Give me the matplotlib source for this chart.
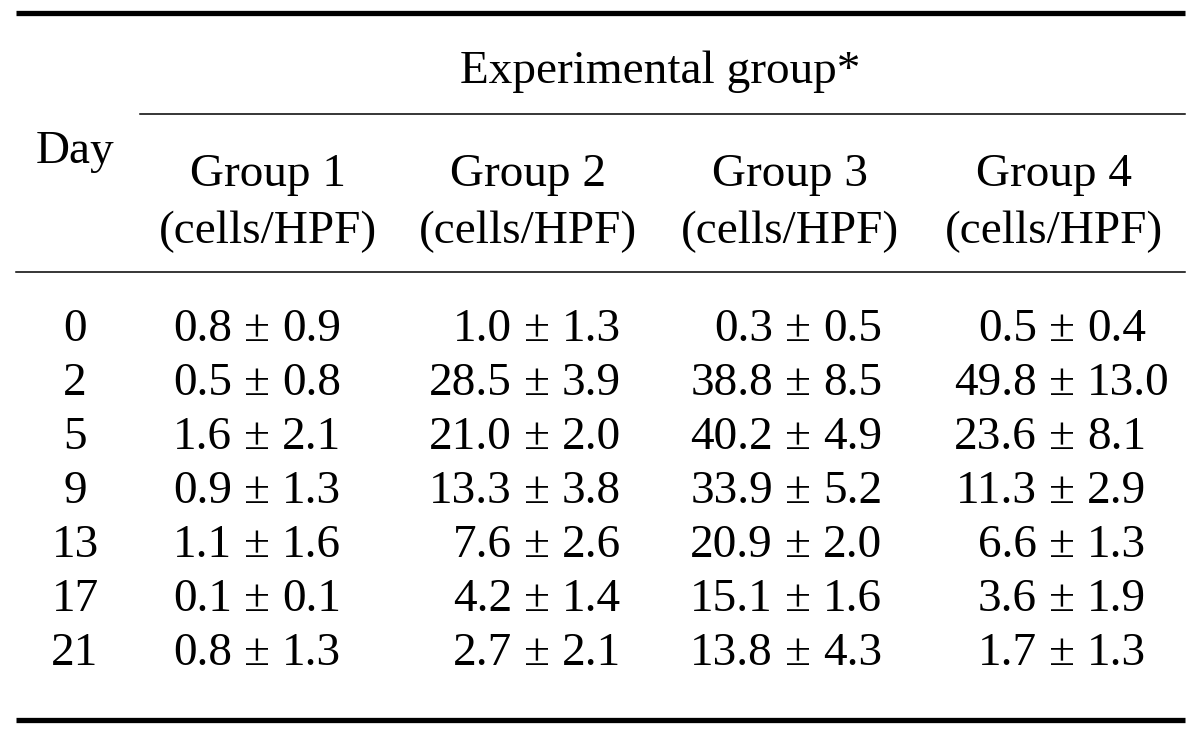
import matplotlib.pyplot as plt

# Data
days = ["0", "2", "5", "9", "13", "17", "21"]
groups = ["Group 1", "Group 2", "Group 3", "Group 4"]
unit = "(cells/HPF)"
g1_mean = ["0.8", "0.5", "1.6", "0.9", "1.1", "0.1", "0.8"]
g1_sd   = ["0.9", "0.8", "2.1", "1.3", "1.6", "0.1", "1.3"]
g2_mean = ["1.0", "28.5", "21.0", "13.3", "7.6", "4.2", "2.7"]
g2_sd   = ["1.3", "3.9", "2.0", "3.8", "2.6", "1.4", "2.1"]
g3_mean = ["0.3", "38.8", "40.2", "33.9", "20.9", "15.1", "13.8"]
g3_sd   = ["0.5", "8.5", "4.9", "5.2", "2.0", "1.6", "4.3"]
g4_mean = ["0.5", "49.8", "23.6", "11.3", "6.6", "3.6", "1.7"]
g4_sd   = ["0.4", "13.0", "8.1", "2.9", "1.3", "1.9", "1.3"]

means = [g1_mean, g2_mean, g3_mean, g4_mean]
sds = [g1_sd, g2_sd, g3_sd, g4_sd]

fig = plt.figure(figsize=(12, 7.29), dpi=100)
ax = fig.add_axes([0, 0, 1, 1])
ax.set_xlim(0, 1200)
ax.set_ylim(729, 0)
ax.axis("off")

fs = 34
font = dict(family=["Liberation Serif", "DejaVu Serif"], fontsize=fs, color="black")

# rules
ax.plot([16, 1185], [13, 13], color="black", lw=3.8, solid_capstyle="butt")
ax.plot([140, 1185], [114, 114], color="black", lw=1.1)
ax.plot([16, 1185], [272, 272], color="black", lw=1.1)
ax.plot([16, 1185], [720, 720], color="black", lw=3.8, solid_capstyle="butt")

# header
ax.text(660, 83, "Experimental group*", ha="center", va="baseline", **font)
ax.text(75, 163, "Day", ha="center", va="baseline", **font)
col_center = [268, 528, 790, 1054]
for x, g in zip(col_center, groups):
    ax.text(x, 186, g, ha="center", va="baseline", **font)
    ax.text(x, 243, unit, ha="center", va="baseline", **font)

# body, aligned on the ± sign
pm_x = [257, 537, 798, 1062]
row_base = 341
row_step = 54
for i, d in enumerate(days):
    y = row_base + i * row_step
    ax.text(75, y, d, ha="center", va="baseline", **font)
    for j in range(4):
        ax.text(pm_x[j] - 25, y, means[j][i], ha="right", va="baseline", **font)
        ax.text(pm_x[j], y, "\u00b1", ha="center", va="baseline", **font)
        ax.text(pm_x[j] + 25, y, sds[j][i], ha="left", va="baseline", **font)

fig.savefig("out.png", dpi=100, facecolor="white")
